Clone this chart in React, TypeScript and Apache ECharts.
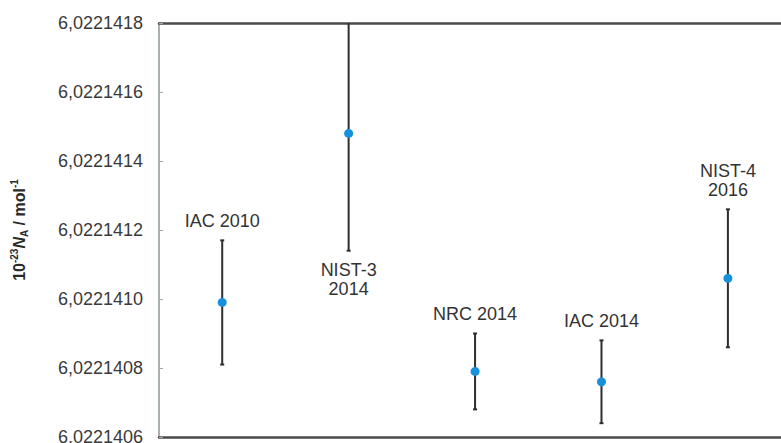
import React, { useEffect, useRef } from "react";
import * as echarts from "echarts";

const categories = ["IAC 2010", "NIST-3\n2014", "NRC 2014", "IAC 2014", "NIST-4\n2016"];
const values = [6.02214099, 6.02214148, 6.02214079, 6.02214076, 6.02214106];
const uncertainties = [0.00000018, 0.00000034, 0.00000011, 0.00000012, 0.0000002];
const labelSides = ["top", "bottom", "top", "top", "top"];
const yMin = 6.0221406;
const yMax = 6.0221418;
const yStep = 0.0000002;

const SCALE = 1e7;

export default function App() {
  const ref = useRef<HTMLDivElement>(null);
  useEffect(() => {
    if (!ref.current) return;
    const chart = echarts.init(ref.current, null, { renderer: "svg" });
    const data = values.map((v, i) => [i + 1, v * SCALE, (v - uncertainties[i]) * SCALE, (v + uncertainties[i]) * SCALE]);
    const font = "'Liberation Sans', Arial, sans-serif";
    chart.setOption({
      animation: false,
      backgroundColor: "#ffffff",
      grid: { left: 159, right: 0, top: 23, bottom: 6, containLabel: false, outerBoundsMode: "none" },
      xAxis: [
        {
          type: "value", min: 0.5, max: 5.42, position: "bottom",
          axisLine: { show: true, onZero: false, lineStyle: { color: "#4a4a4a", width: 2.5 } },
          axisTick: { show: false }, axisLabel: { show: false }, splitLine: { show: false },
        },
        {
          type: "value", min: 0.5, max: 5.42, position: "top",
          axisLine: { show: true, onZero: false, lineStyle: { color: "#4a4a4a", width: 2.5 } },
          axisTick: { show: false }, axisLabel: { show: false }, splitLine: { show: false },
        },
      ],
      yAxis: {
        type: "value",
        min: yMin * SCALE,
        max: yMax * SCALE,
        interval: yStep * SCALE,
        axisLine: { show: true, lineStyle: { color: "#a9b1b1", width: 2 } },
        axisTick: { show: true, inside: true, length: 4, lineStyle: { color: "#a0a8a8", width: 1 } },
        splitLine: { show: false },
        axisLabel: {
          margin: 16,
          fontSize: 18,
          fontFamily: font,
          color: "#3a3a3a",
          formatter: (v: number) => (v / SCALE).toFixed(7).replace(".", ","),
        },
      },
      graphic: [
        {
          type: "text",
          x: 19,
          y: 230,
          rotation: Math.PI / 2,
          style: {
            text: "{n|10}{sup|-23}{it|N}{sub|A}{n| / mol}{sup|-1}",
            align: "center",
            verticalAlign: "middle",
            fill: "#2a2a2a",
            rich: {
              n: { fontSize: 16, fontWeight: "bold", fontFamily: font, lineHeight: 20, fill: "#2a2a2a" },
              it: { fontSize: 16, fontWeight: "bold", fontStyle: "italic", fontFamily: font, lineHeight: 20, fill: "#2a2a2a" },
              sup: { fontSize: 10, fontWeight: "bold", fontFamily: font, lineHeight: 20, verticalAlign: "top", fill: "#2a2a2a" },
              sub: { fontSize: 10, fontWeight: "bold", fontFamily: font, lineHeight: 20, verticalAlign: "bottom", fill: "#2a2a2a" },
            },
          },
        },
      ],
      series: [
        {
          type: "custom",
          xAxisIndex: 0,
          data,
          renderItem: (params: any, api: any) => {
            const i = params.dataIndex;
            const x = api.value(0);
            const pV = api.coord([x, api.value(1)]);
            const pLo = api.coord([x, api.value(2)]);
            const pHi = api.coord([x, api.value(3)]);
            const cs = params.coordSys;
            const top = cs.y;
            const bottom = cs.y + cs.height;
            const hiY = Math.max(pHi[1], top);
            const loY = Math.min(pLo[1], bottom);
            const children: any[] = [
              { type: "line", shape: { x1: pV[0], y1: loY, x2: pV[0], y2: hiY }, style: { stroke: "#2e2e2e", lineWidth: 2 } },
            ];
            if (pHi[1] >= top) {
              children.push({ type: "line", shape: { x1: pV[0] - 2, y1: hiY, x2: pV[0] + 2, y2: hiY }, style: { stroke: "#2e2e2e", lineWidth: 2 } });
            }
            if (pLo[1] <= bottom) {
              children.push({ type: "line", shape: { x1: pV[0] - 2, y1: loY, x2: pV[0] + 2, y2: loY }, style: { stroke: "#2e2e2e", lineWidth: 2 } });
            }
            children.push({ type: "circle", shape: { cx: pV[0], cy: pV[1], r: 4.5 }, style: { fill: "#1691dc" } });
            const side = labelSides[i];
            children.push({
              type: "text",
              style: {
                text: categories[i],
                x: pV[0],
                y: side === "top" ? hiY - 10 : loY + 10,
                align: "center",
                verticalAlign: side === "top" ? "bottom" : "top",
                fontSize: 18,
                lineHeight: 19,
                fontFamily: font,
                fill: "#333333",
              },
            });
            return { type: "group", children };
          },
        },
      ],
    });
    return () => chart.dispose();
  }, []);
  return <div ref={ref} style={{ width: 781, height: 443, position: "absolute", left: 0, top: 0 }} />;
}
